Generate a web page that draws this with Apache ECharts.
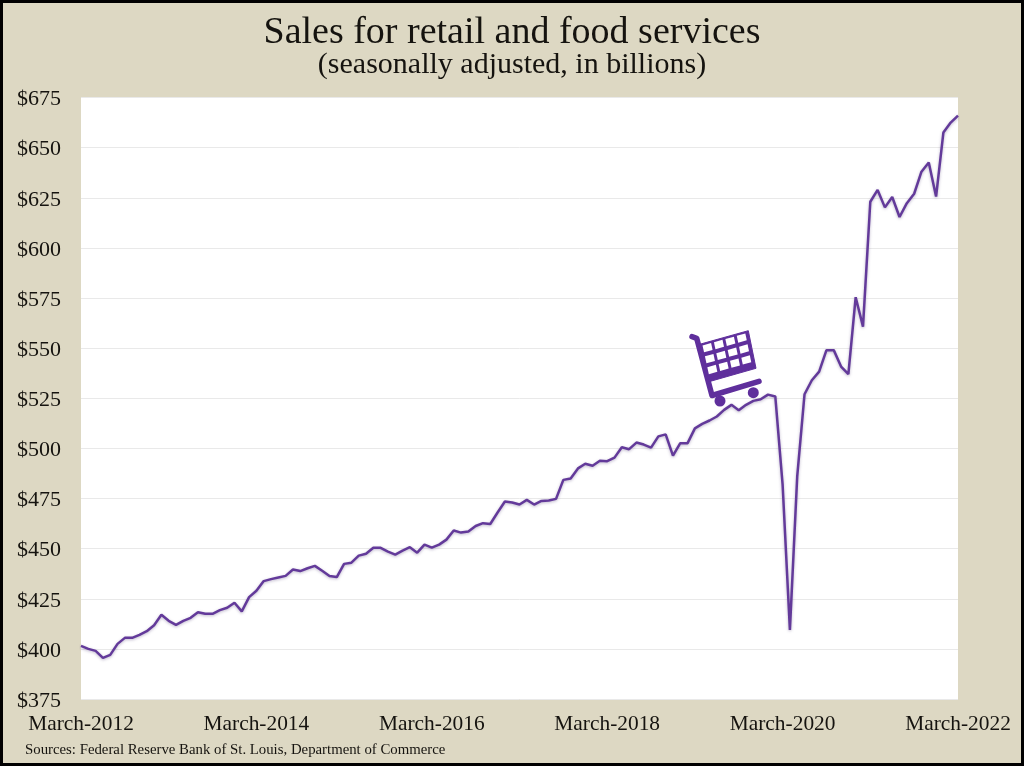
<!DOCTYPE html>
<html><head><meta charset="utf-8">
<style>html,body{margin:0;padding:0;background:#ddd8c3}#c{width:1024px;height:766px}</style>
<script src="https://cdn.jsdelivr.net/npm/echarts@6/dist/echarts.min.js"></script>
</head><body><div id="c"></div>
<script>
const monthNames = ['March','April','May','June','July','August','September','October','November','December','January','February'];
const salesBillions = [
401.5,400,399,395.5,397,402.5,405.5,405.5,407,408.8,411.8,417,
414,412,414,415.5,418.3,417.5,417.5,419.3,420.5,423,418.7,425.8,
429,433.8,434.8,435.6,436.4,439.6,438.8,440.2,441.4,439,436.4,435.8,
442.4,443,446.5,447.4,450.4,450.4,448.5,447,449,450.7,448,452,
450.5,452,454.5,459,458,458.5,461.3,462.7,462.3,468,473.5,473,
472,474.3,472,473.8,474,474.8,484.3,485,490,492.3,491.3,493.8,
493.6,495.4,500.6,499.6,502.9,501.9,500.4,506,507,496.4,502.6,502.6,
510,512.2,513.9,515.9,519.2,521.7,519,521.7,523.7,524.5,526.8,525.9,
482,409.5,486,527,534,538.3,549,549,540.8,537,575.4,560.7,
623,628.9,620.2,625.4,615.4,622.3,627,638,642.6,625.6,657.5,662.5,
666];
const categories = salesBillions.map((_, i) => monthNames[i % 12] + '-' + (2012 + Math.floor((i + 2) / 12)));
const titleText = 'Sales for retail and food services';
const subtitleText = '(seasonally adjusted, in billions)';
const sourceText = 'Sources: Federal Reserve Bank of St. Louis, Department of Commerce';

const serif = '"Liberation Serif", serif';
const purple = '#5f2f9c';
const ink = '#15130f';

// decorative shopping-cart icon
const corners = [[700.7,344],[748.3,330.7],[756,368.3],[709,381.7]];
function bil(u, v) {
  const a = corners;
  return [
    (1-u)*(1-v)*a[0][0] + u*(1-v)*a[1][0] + u*v*a[2][0] + (1-u)*v*a[3][0],
    (1-u)*(1-v)*a[0][1] + u*(1-v)*a[1][1] + u*v*a[2][1] + (1-u)*v*a[3][1]
  ];
}
const cart = [
  {type:'polyline', shape:{points:[[692,336.7],[696.7,338.3],[712,395.5],[759,381.3]]},
   style:{fill:null, stroke:purple, lineWidth:5.5, lineCap:'round', lineJoin:'round'}, z:50},
  {type:'polygon', shape:{points:corners}, style:{fill:purple, stroke:purple, lineWidth:1}, z:50},
  {type:'circle', shape:{cx:720,cy:401,r:5.5}, style:{fill:purple}, z:50},
  {type:'circle', shape:{cx:753.3,cy:392.7,r:5.5}, style:{fill:purple}, z:50}
];
const cellU = [0.12,0.36,0.6,0.84], cellV = [0.14,0.43,0.72];
cellV.forEach(v => cellU.forEach(u => {
  const du = 0.09, dv = 0.092;
  cart.push({type:'polygon', shape:{points:[bil(u-du,v-dv),bil(u+du,v-dv),bil(u+du,v+dv),bil(u-du,v+dv)]}, style:{fill:'#ffffff'}, z:51});
}));

const chart = echarts.init(document.getElementById('c'), null, {renderer:'canvas'});
chart.setOption({
  animation:false,
  backgroundColor:'#ddd8c3',
  title:[
    {text:titleText, left:'center', top:9, textStyle:{fontFamily:serif, fontWeight:'normal', fontSize:38, color:ink}},
    {text:subtitleText, left:'center', top:45, textStyle:{fontFamily:serif, fontWeight:'normal', fontSize:30, color:ink}},
    {text:sourceText, left:20, top:738, textStyle:{fontFamily:serif, fontWeight:'normal', fontSize:14.8, color:ink}}
  ],
  grid:{left:81, right:66, top:97.5, bottom:67, show:true, backgroundColor:'#ffffff', borderWidth:0, containLabel:false},
  xAxis:{type:'category', data:categories, boundaryGap:false,
    axisLine:{show:false}, axisTick:{show:false}, splitLine:{show:false},
    axisLabel:{interval:23, margin:15, fontFamily:serif, fontSize:21.4, color:ink, showMinLabel:true, showMaxLabel:true}},
  yAxis:{type:'value', min:375, max:675, interval:25,
    axisLine:{show:false}, axisTick:{show:false},
    splitLine:{show:true, lineStyle:{color:'#e9e9e9', width:1}},
    axisLabel:{margin:20, color:ink, formatter:v => '{a|$' + v + '}',
      rich:{a:{fontFamily:serif, fontSize:22, color:ink, padding:[4,0,0,0]}}}},
  series:[{type:'line', data:salesBillions, showSymbol:false, smooth:false,
    lineStyle:{color:'#633a9a', width:2.5, shadowColor:'rgba(70,50,110,0.35)', shadowBlur:3, shadowOffsetY:1}}],
  graphic:[
    {type:'rect', shape:{x:1.5,y:1.5,width:1021,height:763}, style:{fill:null, stroke:'#000', lineWidth:3}, z:60},
    ...cart
  ]
});
</script></body></html>
